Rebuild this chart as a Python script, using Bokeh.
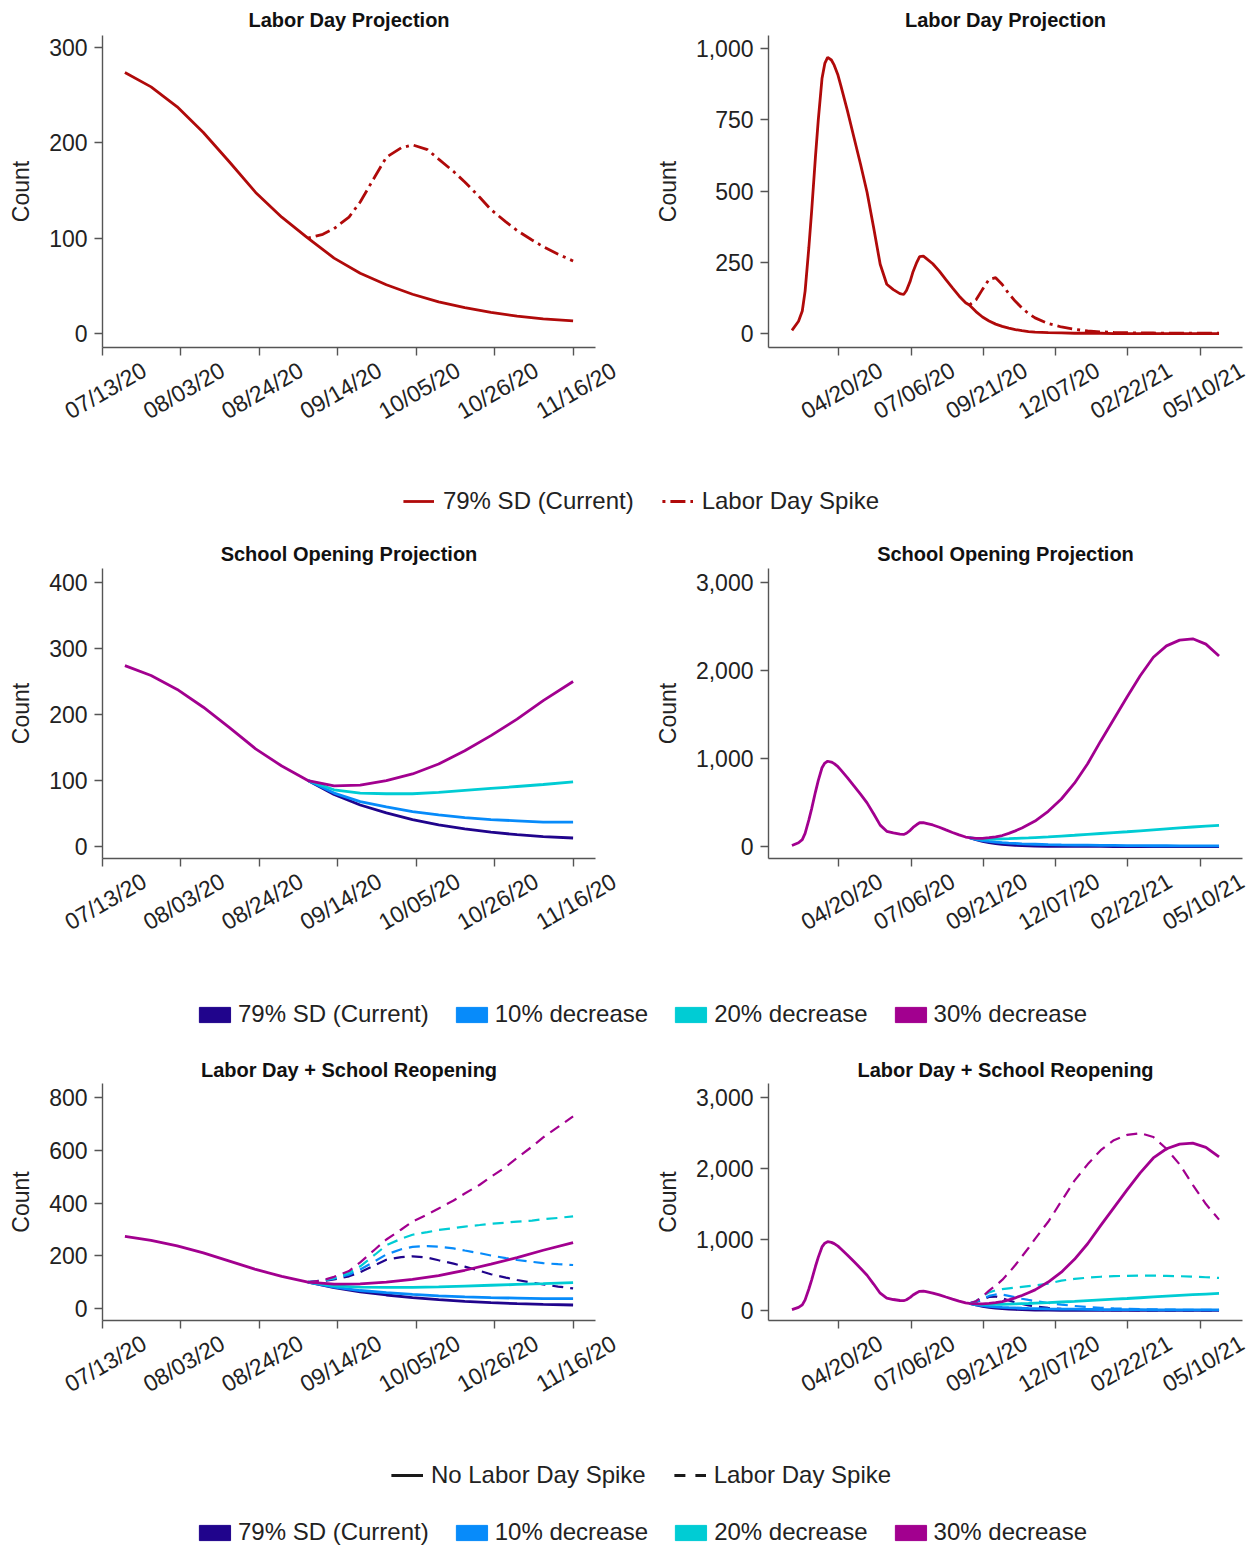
import pandas as pd
from bokeh.plotting import figure
from bokeh.layouts import column, row
from bokeh.models import (Range1d, FixedTicker, NumeralTickFormatter, LabelSet,
                          ColumnDataSource, Legend, LegendItem)
from bokeh.embed import file_html
from bokeh.resources import INLINE
from bokeh.core.properties import value

# ---------------- data: short window (left column) ----------------
base_dates_short = ["07/19/20", "07/26/20", "08/02/20", "08/09/20", "08/16/20",
                    "08/23/20", "08/30/20", "09/06/20"]
base_short = [274, 259, 238, 211, 180, 148, 122, 100]

tail_dates_short = ["09/06/20", "09/13/20", "09/20/20", "09/27/20", "10/04/20",
                    "10/11/20", "10/18/20", "10/25/20", "11/01/20", "11/08/20",
                    "11/16/20"]
sd79_short = [100, 79, 63, 51, 41, 33, 27, 22, 18, 15, 13]
dec10_short = [100, 81, 68, 60, 53, 48, 44, 41, 39, 37, 37]
dec20_short = [100, 86, 81, 80, 80, 82, 85, 88, 91, 94, 98]
dec30_short = [100, 92, 93, 100, 110, 125, 145, 168, 193, 221, 250]

spike_dates_short = ["09/06/20", "09/10/20", "09/13/20", "09/17/20", "09/20/20",
                     "09/24/20", "09/27/20", "10/01/20", "10/04/20", "10/08/20",
                     "10/11/20", "10/15/20", "10/18/20", "10/22/20", "10/25/20",
                     "10/29/20", "11/01/20", "11/05/20", "11/08/20", "11/12/20",
                     "11/16/20"]
sd79_spike_short = [100, 104, 110, 122, 138, 165, 185, 195, 198, 193, 183, 170,
                    159, 143, 130, 117, 108, 98, 91, 83, 76]
dec10_spike_short = [100, 105, 113, 128, 148, 180, 205, 225, 234, 237, 235, 228,
                     220, 210, 201, 191, 184, 177, 172, 168, 165]
dec20_spike_short = [100, 106, 116, 135, 160, 205, 240, 265, 280, 290, 298, 305,
                     311, 317, 322, 326, 330, 334, 339, 344, 350]
dec30_spike_short = [100, 107, 120, 142, 175, 225, 262, 300, 330, 357, 380, 410,
                     437, 470, 500, 538, 572, 615, 650, 690, 730]

# ---------------- data: long window (right column) ----------------
base_dates_long = ["03/01/20", "03/08/20", "03/12/20", "03/15/20", "03/19/20",
                   "03/22/20", "03/26/20", "03/29/20", "04/02/20", "04/05/20",
                   "04/08/20", "04/12/20", "04/15/20", "04/19/20", "04/22/20",
                   "04/29/20", "05/06/20", "05/13/20", "05/20/20", "05/27/20",
                   "06/03/20", "06/10/20", "06/17/20", "06/24/20", "06/28/20",
                   "07/01/20", "07/05/20", "07/08/20", "07/12/20", "07/15/20",
                   "07/19/20", "07/22/20", "07/29/20", "08/05/20", "08/12/20",
                   "08/19/20", "08/26/20", "09/02/20", "09/06/20"]
base_long = [11, 43, 79, 149, 302, 431, 619, 748, 895, 948,
             969, 960, 942, 907, 871, 783, 689, 595, 496, 372,
             243, 173, 154, 140, 137, 151, 184, 217, 250, 270,
             272, 264, 245, 219, 189, 160, 132, 108, 100]

tail_dates_long = ["09/06/20", "09/13/20", "09/20/20", "09/27/20", "10/04/20",
                   "10/11/20", "10/18/20", "10/25/20", "11/01/20", "11/08/20",
                   "11/15/20", "11/29/20", "12/13/20", "12/27/20", "01/10/21",
                   "01/24/21", "02/07/21", "02/21/21", "03/07/21", "03/21/21",
                   "04/04/21", "04/18/21", "05/02/21", "05/16/21", "05/30/21"]
sd79_long = [100, 77, 58, 44, 33, 25, 19, 14, 10, 7, 5, 3, 2, 1, 1, 1, 0, 0, 0,
             0, 0, 0, 0, 0, 0]
dec10_long = [100, 80, 68, 58, 50, 44, 39, 35, 31, 28, 26, 22, 19, 17, 15, 13, 12,
              11, 10, 9, 9, 8, 8, 7, 7]
dec20_long = [100, 89, 85, 84, 85, 87, 89, 92, 95, 98, 102, 110, 119, 128, 138,
              148, 158, 168, 179, 190, 201, 212, 222, 231, 240]
dec30_long = [100, 92, 93, 100, 110, 125, 150, 178, 210, 250, 290, 400, 540, 720,
              940, 1200, 1450, 1700, 1940, 2150, 2280, 2345, 2360, 2300, 2165]
sd79_spike_long = [100, 118, 155, 190, 196, 172, 140, 113, 90, 70, 55, 35, 23, 15,
                   9, 6, 4, 3, 2, 2, 1, 1, 1, 1, 1]
dec10_spike_long = [100, 118, 160, 205, 225, 222, 205, 185, 165, 148, 132, 105, 82,
                    63, 48, 37, 29, 23, 18, 15, 12, 10, 9, 8, 7]
dec20_spike_long = [100, 130, 195, 255, 285, 300, 312, 322, 332, 342, 352, 378,
                    420, 445, 462, 475, 483, 488, 490, 490, 487, 483, 476, 468, 458]
dec30_spike_long = [100, 130, 195, 280, 350, 430, 530, 640, 760, 880, 1010, 1250,
                    1540, 1830, 2060, 2260, 2400, 2475, 2500, 2445, 2280, 2060,
                    1770, 1500, 1280]

# ---------------- ticks ----------------
left_tick_labels = ["07/13/20", "08/03/20", "08/24/20", "09/14/20", "10/05/20",
                    "10/26/20", "11/16/20"]
right_tick_labels = ["04/20/20", "07/06/20", "09/21/20", "12/07/20", "02/22/21",
                     "05/10/21"]
yticks_r1_left = [0, 100, 200, 300]
yticks_r1_right = [0, 250, 500, 750, 1000]
yticks_r2_left = [0, 100, 200, 300, 400]
yticks_r2_right = [0, 1000, 2000, 3000]
yticks_r3_left = [0, 200, 400, 600, 800]
yticks_r3_right = [0, 1000, 2000, 3000]

scenario_labels = ["79% SD (Current)", "10% decrease", "20% decrease", "30% decrease"]

# ---------------- style ----------------
FONT = "Liberation Sans"
RED = "#B00A0A"
C79 = "#20048C"
C10 = "#078BFA"
C20 = "#00CCD4"
C30 = "#A2008F"
AXC = "#555555"
TXT = "#222222"
LW = 2.8
W = 626                       # width of each half
LEFT_XR = ("07/13/20", "11/22/20")
RIGHT_XR = ("02/05/20", "06/24/21")
BORDERS = {True: (102, 31), False: (142, 10)}
BOTTOM = 9                    # space under the axis inside the chart figure
LABEL_DROP = 43               # centre of x tick labels below the axis


def dt(strs):
    return pd.to_datetime(strs, format="%m/%d/%y")


def ms(strs):
    return [int(t.value // 10**6) for t in dt(strs)]


def panel(title, left, yr, yticks, btop, frame_h, standoff):
    xr = LEFT_XR if left else RIGHT_XR
    ticks = left_tick_labels if left else right_tick_labels
    bl, br = BORDERS[left]
    x0, x1 = dt(list(xr))
    p = figure(width=W, height=btop + frame_h + BOTTOM, x_axis_type="datetime",
               x_range=Range1d(x0, x1), y_range=Range1d(*yr),
               output_backend="svg", toolbar_location=None,
               min_border_left=bl, min_border_right=br,
               min_border_top=btop, min_border_bottom=BOTTOM, title=title)
    p.title.align = "center"
    p.title.text_font = FONT
    p.title.text_font_size = "20px"
    p.title.text_font_style = "bold"
    p.title.text_color = "#111111"
    p.title.standoff = standoff
    p.outline_line_color = None
    p.xgrid.visible = False
    p.ygrid.visible = False
    for ax in (p.xaxis[0], p.yaxis[0]):
        ax.axis_line_color = AXC
        ax.axis_line_width = 1.4
        ax.major_tick_line_color = AXC
        ax.major_tick_line_width = 1.4
        ax.major_tick_out = 8
        ax.major_tick_in = 0
        ax.minor_tick_out = 0
        ax.minor_tick_in = 0
        ax.major_label_text_font = FONT
        ax.major_label_text_font_size = "23px"
        ax.major_label_text_color = TXT
    tick_ms = ms(ticks)
    p.xaxis.ticker = FixedTicker(ticks=tick_ms)
    p.xaxis.major_label_overrides = {t: "" for t in tick_ms}
    p.xaxis.major_label_text_font_size = "0px"
    p.xaxis.major_label_standoff = 0
    p.yaxis.ticker = FixedTicker(ticks=yticks)
    p.yaxis.formatter = NumeralTickFormatter(format="0,0")
    p.yaxis.major_label_standoff = 7
    p.yaxis.axis_label = "Count"
    p.yaxis.axis_label_text_font = FONT
    p.yaxis.axis_label_text_font_size = "23px"
    p.yaxis.axis_label_text_font_style = "normal"
    p.yaxis.axis_label_text_color = TXT
    p.yaxis.axis_label_standoff = 12
    return p


def strip(left, height):
    """Figure under a chart, sharing its x scale, that carries the slanted date labels."""
    xr = LEFT_XR if left else RIGHT_XR
    ticks = left_tick_labels if left else right_tick_labels
    bl, br = BORDERS[left]
    x0, x1 = ms(list(xr))
    mpp = (x1 - x0) / (W - bl - br)
    s = figure(width=W, height=height, x_range=Range1d(x0 - bl * mpp, x1 + br * mpp),
               y_range=Range1d(0, 1), output_backend="svg", toolbar_location=None,
               x_axis_location=None, y_axis_location=None, min_border_left=0,
               min_border_right=0, min_border_top=0, min_border_bottom=0)
    s.outline_line_color = None
    s.xgrid.visible = False
    s.ygrid.visible = False
    src = ColumnDataSource(dict(x=ms(ticks), text=ticks))
    s.add_layout(LabelSet(x="x", y=height - (LABEL_DROP - BOTTOM), text="text",
                          source=src, y_units="screen", angle=30, angle_units="deg",
                          text_align="center", text_baseline="middle", x_offset=3,
                          text_font=value(FONT), text_font_size=value("23px"),
                          text_color=TXT))
    return s


def full(base_d, base_v, tail_d, tail_v):
    return list(dt(base_d)) + list(dt(tail_d))[1:], base_v + tail_v[1:]


def legend_fig(height):
    f = figure(width=2 * W, height=height, x_range=Range1d(0, 1), y_range=Range1d(0, 1),
               output_backend="svg", toolbar_location=None, x_axis_location=None,
               y_axis_location=None, min_border_left=30, min_border_right=0,
               min_border_top=0, min_border_bottom=0)
    f.outline_line_color = None
    f.xgrid.visible = False
    f.ygrid.visible = False
    return f


NAN = [float("nan")]


def style_legend(leg, gw, gh, standoff, spacing):
    leg.orientation = "horizontal"
    leg.glyph_width = gw
    leg.glyph_height = gh
    leg.label_standoff = standoff
    leg.spacing = spacing
    leg.padding = 0
    leg.border_line_color = None
    leg.background_fill_alpha = 0
    leg.label_text_font = FONT
    leg.label_text_font_size = "24px"
    leg.label_text_color = TXT


def square_items(f):
    rs = [f.quad(left=NAN, right=NAN, top=NAN, bottom=NAN, fill_color=c, line_color=c)
          for c in (C79, C10, C20, C30)]
    return [LegendItem(label=l, renderers=[r]) for l, r in zip(scenario_labels, rs)]


# ---------------- row 1 ----------------
p1a = panel("Labor Day Projection", True, (-15, 313), yticks_r1_left, 35, 312, 10)
x, y = full(base_dates_short, base_short, tail_dates_short, sd79_short)
p1a.line(x, y, line_color=RED, line_width=LW)
p1a.line(dt(spike_dates_short), sd79_spike_short, line_color=RED, line_width=LW,
         line_dash="3 5 15 5")

p1b = panel("Labor Day Projection", False, (-49, 1046), yticks_r1_right, 35, 312, 10)
x, y = full(base_dates_long, base_long, tail_dates_long, sd79_long)
p1b.line(x, y, line_color=RED, line_width=LW)
p1b.line(dt(tail_dates_long), sd79_spike_long, line_color=RED, line_width=LW,
         line_dash="3 5 15 5")

leg1f = legend_fig(72)
r_a = leg1f.line(x=NAN, y=NAN, line_color=RED, line_width=LW)
r_b = leg1f.line(x=NAN, y=NAN, line_color=RED, line_width=LW, line_dash="3 5 15 5")
lg1 = Legend(items=[LegendItem(label="79% SD (Current)", renderers=[r_a]),
                    LegendItem(label="Labor Day Spike", renderers=[r_b])],
             location="center", margin=0)
style_legend(lg1, 31, 20, 9, 28)
leg1f.add_layout(lg1, "center")

# ---------------- row 2 ----------------
p2a = panel("School Opening Projection", True, (-18, 421), yticks_r2_left, 31, 290, 7)
p2b = panel("School Opening Projection", False, (-136, 3159), yticks_r2_right, 31, 290, 7)
for p, bd, bv, td, series in (
        (p2a, base_dates_short, base_short, tail_dates_short,
         [sd79_short, dec10_short, dec20_short, dec30_short]),
        (p2b, base_dates_long, base_long, tail_dates_long,
         [sd79_long, dec10_long, dec20_long, dec30_long])):
    for col, s in zip([C79, C10, C20], series[:3]):
        p.line(dt(td), s, line_color=col, line_width=LW)
    x, y = full(bd, bv, td, series[3])
    p.line(x, y, line_color=C30, line_width=LW)

leg2f = legend_fig(68)
lg2 = Legend(items=square_items(leg2f), location="center", margin=0)
style_legend(lg2, 39, 19, 4, 23)
leg2f.add_layout(lg2, "center")

# ---------------- row 3 ----------------
p3a = panel("Labor Day + School Reopening", True, (-46, 855), yticks_r3_left, 35, 237, 6)
p3b = panel("Labor Day + School Reopening", False, (-142, 3200), yticks_r3_right, 35, 237, 6)
for p, bd, bv, td, sd, solid, dashed in (
        (p3a, base_dates_short, base_short, tail_dates_short, spike_dates_short,
         [sd79_short, dec10_short, dec20_short, dec30_short],
         [sd79_spike_short, dec10_spike_short, dec20_spike_short, dec30_spike_short]),
        (p3b, base_dates_long, base_long, tail_dates_long, tail_dates_long,
         [sd79_long, dec10_long, dec20_long, dec30_long],
         [sd79_spike_long, dec10_spike_long, dec20_spike_long, dec30_spike_long])):
    for col, s in zip([C79, C10, C20, C30], dashed):
        p.line(dt(sd), s, line_color=col, line_width=2.2, line_dash="11 7")
    for col, s in zip([C79, C10, C20], solid[:3]):
        p.line(dt(td), s, line_color=col, line_width=LW)
    x, y = full(bd, bv, td, solid[3])
    p.line(x, y, line_color=C30, line_width=LW)

leg3f = legend_fig(106)
r_s = leg3f.line(x=NAN, y=NAN, line_color="#1a1a1a", line_width=LW)
r_d = leg3f.line(x=NAN, y=NAN, line_color="#1a1a1a", line_width=LW, line_dash="11 10")
lg3a = Legend(items=[LegendItem(label="No Labor Day Spike", renderers=[r_s]),
                     LegendItem(label="Labor Day Spike", renderers=[r_d])],
              location="top_center", margin=21)
style_legend(lg3a, 32, 20, 8, 28)
leg3f.add_layout(lg3a, "center")
lg3b = Legend(items=square_items(leg3f), location="bottom_center", margin=0)
style_legend(lg3b, 39, 19, 4, 23)
leg3f.add_layout(lg3b, "center")

layout = column(
    row(p1a, p1b), row(strip(True, 109), strip(False, 109)), leg1f,
    row(p2a, p2b), row(strip(True, 113), strip(False, 113)), leg2f,
    row(p3a, p3b), row(strip(True, 111), strip(False, 111)), leg3f)
open("out.html", "w").write(file_html(layout, INLINE))
